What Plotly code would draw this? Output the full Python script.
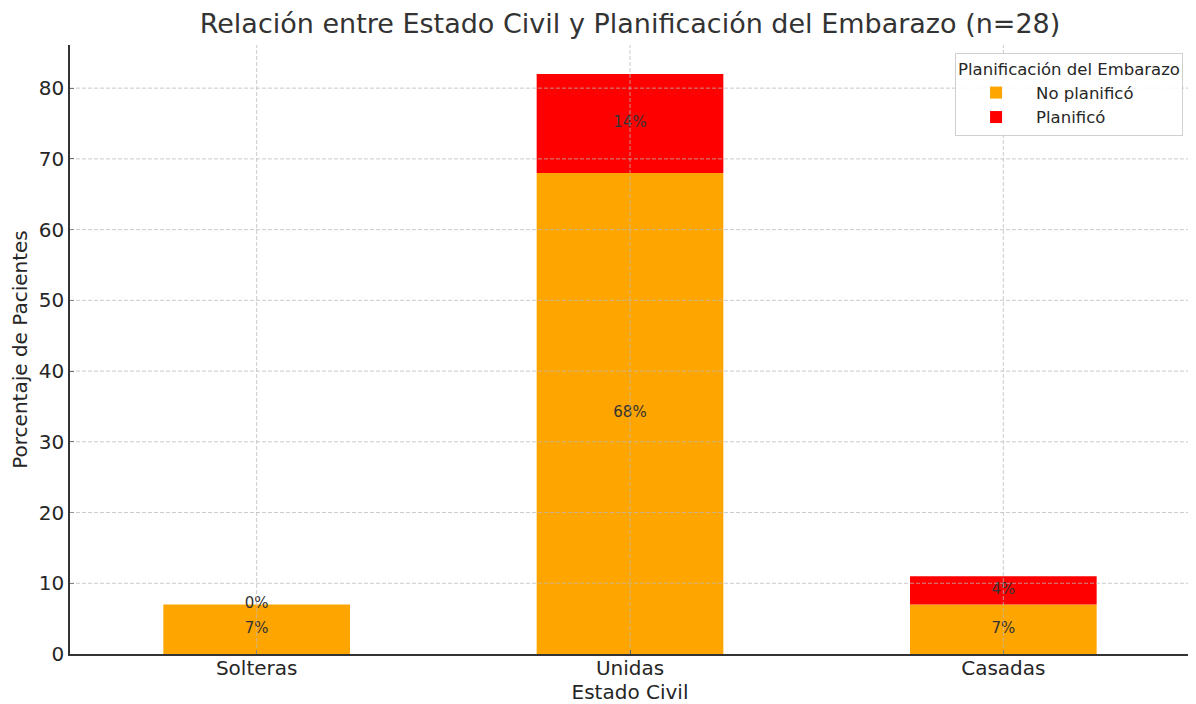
import plotly.graph_objects as go

categories = ["Solteras", "Unidas", "Casadas"]
no_planifico = [7, 68, 7]
planifico = [0, 14, 4]
y_ticks = [0, 10, 20, 30, 40, 50, 60, 70, 80]

FONT = "DejaVu Sans"
TXT = "#262626"
GRID = "rgba(185,185,185,0.75)"

# the page body adds an 8px margin; size the figure so it fills the 1196x704 window
W, H = 1188, 696

fig = go.Figure()
fig.add_trace(go.Bar(x=categories, y=no_planifico, name="No planificó",
                     marker=dict(color="#FFA500", line=dict(width=0)), width=0.5))
fig.add_trace(go.Bar(x=categories, y=planifico, name="Planificó", base=no_planifico,
                     marker=dict(color="#FF0000", line=dict(width=0)), width=0.5))

# segment center labels
lab_x, lab_y, lab_t = [], [], []
for c, a, b in zip(categories, no_planifico, planifico):
    lab_x += [c, c]
    lab_y += [a / 2, a + b / 2]
    lab_t += [f"{a}%", f"{b}%"]
fig.add_trace(go.Scatter(x=lab_x, y=lab_y, text=lab_t, mode="text",
                         textfont=dict(family=FONT, size=15, color="#333333"),
                         showlegend=False, hoverinfo="skip"))

# dashed grid drawn above bars (as in the reference)
for t in y_ticks[1:]:
    fig.add_shape(type="line", xref="paper", x0=0, x1=1, yref="y", y0=t, y1=t,
                  line=dict(color=GRID, width=1, dash="4px,2px"), layer="above")
for c in categories:
    fig.add_shape(type="line", xref="x", x0=c, x1=c, yref="paper", y0=0, y1=1,
                  line=dict(color=GRID, width=1, dash="4px,2px"), layer="above")

fig.update_layout(
    barmode="overlay",
    width=W, height=H,
    margin=dict(l=62, r=6, t=37, b=50, autoexpand=False),
    paper_bgcolor="white", plot_bgcolor="white",
    font=dict(family=FONT, color=TXT),
    title=dict(text="Relación entre Estado Civil y Planificación del Embarazo (n=28)",
               x=0.5, xref="paper", xanchor="center", y=1 - 16 / H, yanchor="middle",
               yref="container", font=dict(size=27, color="#333333")),
    legend=dict(title=dict(text="Planificación del Embarazo", font=dict(size=16.5), side="top"),
                x=0.9938, xanchor="right", y=0.987, yanchor="top",
                bgcolor="rgba(255,255,255,0.85)", bordercolor="#d0d0d0", borderwidth=1,
                font=dict(size=16.5), traceorder="normal", itemwidth=70, tracegroupgap=0),
    showlegend=True,
)
fig.update_xaxes(range=[-0.5, 2.5], showgrid=False, showline=True, linecolor="#333333",
                 linewidth=1.5, ticks="inside", ticklen=4, tickcolor="#333333",
                 tickfont=dict(size=20), zeroline=False, automargin=False,
                 ticklabelstandoff=-5,
                 title=dict(text="Estado Civil", font=dict(size=20), standoff=8))
fig.update_yaxes(range=[0, 86.1], tickvals=y_ticks, showgrid=False, showline=True,
                 linecolor="#333333", linewidth=1.5, ticks="inside", ticklen=4,
                 tickcolor="#333333", tickfont=dict(size=20), zeroline=False, automargin=False,
                 title=dict(text="Porcentaje de Pacientes", font=dict(size=20), standoff=6))

fig.write_html("out.html")
